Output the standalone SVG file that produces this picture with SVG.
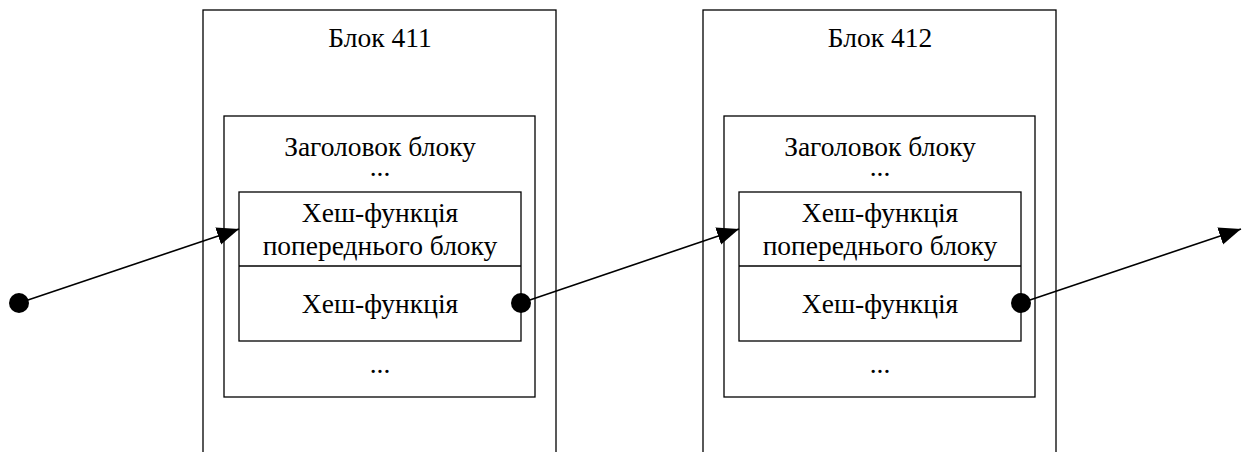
<svg xmlns="http://www.w3.org/2000/svg" width="1248" height="452" viewBox="0 0 1248 452">
  <style>
    .box { fill: #fff; stroke: #000; stroke-width: 1.3; }
    .sep { stroke: #000; stroke-width: 1.3; }
    .lbl { font-family: "Liberation Serif", "Times New Roman", serif; font-size: 27.5px; fill: #000; text-anchor: middle; }
    .link { stroke: #000; stroke-width: 1.6; fill: none; marker-end: url(#arrow); }
    .dot { fill: #000; }
  </style>
  <defs>
    <marker id="arrow" markerUnits="userSpaceOnUse" markerWidth="24" markerHeight="20" viewBox="0 0 24 20" refX="22" refY="10" orient="auto">
      <path d="M0,1 L22,10 L0,19 Z" fill="#000"/>
    </marker>
  </defs>

  <!-- Block 411 -->
  <g id="block411">
    <rect class="box" x="203" y="10" width="353" height="460"/>
    <text class="lbl" x="380" y="47">Блок 411</text>
    <rect class="box" x="224" y="116" width="311" height="281"/>
    <text class="lbl" x="380" y="156">Заголовок блоку</text>
    <text class="lbl" x="380" y="176">...</text>
    <rect class="box" x="239" y="192" width="282" height="149"/>
    <line class="sep" x1="239" y1="266" x2="521" y2="266"/>
    <text class="lbl" x="380" y="222">Хеш-функція</text>
    <text class="lbl" x="380" y="255">попереднього блоку</text>
    <text class="lbl" x="380" y="313">Хеш-функція</text>
    <text class="lbl" x="380" y="373">...</text>
  </g>

  <!-- Block 412 -->
  <g id="block412">
    <rect class="box" x="703" y="10" width="353" height="460"/>
    <text class="lbl" x="880" y="47">Блок 412</text>
    <rect class="box" x="724" y="116" width="311" height="281"/>
    <text class="lbl" x="880" y="156">Заголовок блоку</text>
    <text class="lbl" x="880" y="176">...</text>
    <rect class="box" x="739" y="192" width="282" height="149"/>
    <line class="sep" x1="739" y1="266" x2="1021" y2="266"/>
    <text class="lbl" x="880" y="222">Хеш-функція</text>
    <text class="lbl" x="880" y="255">попереднього блоку</text>
    <text class="lbl" x="880" y="313">Хеш-функція</text>
    <text class="lbl" x="880" y="373">...</text>
  </g>

  <!-- Hash links between blocks -->
  <g id="connectors">
    <line class="link" x1="19" y1="303" x2="239" y2="229"/>
    <circle class="dot" cx="19" cy="303" r="10"/>
    <line class="link" x1="521" y1="303" x2="739" y2="229"/>
    <circle class="dot" cx="521" cy="303" r="10"/>
    <line class="link" x1="1021" y1="303" x2="1241" y2="229"/>
    <circle class="dot" cx="1021" cy="303" r="10"/>
  </g>
</svg>
